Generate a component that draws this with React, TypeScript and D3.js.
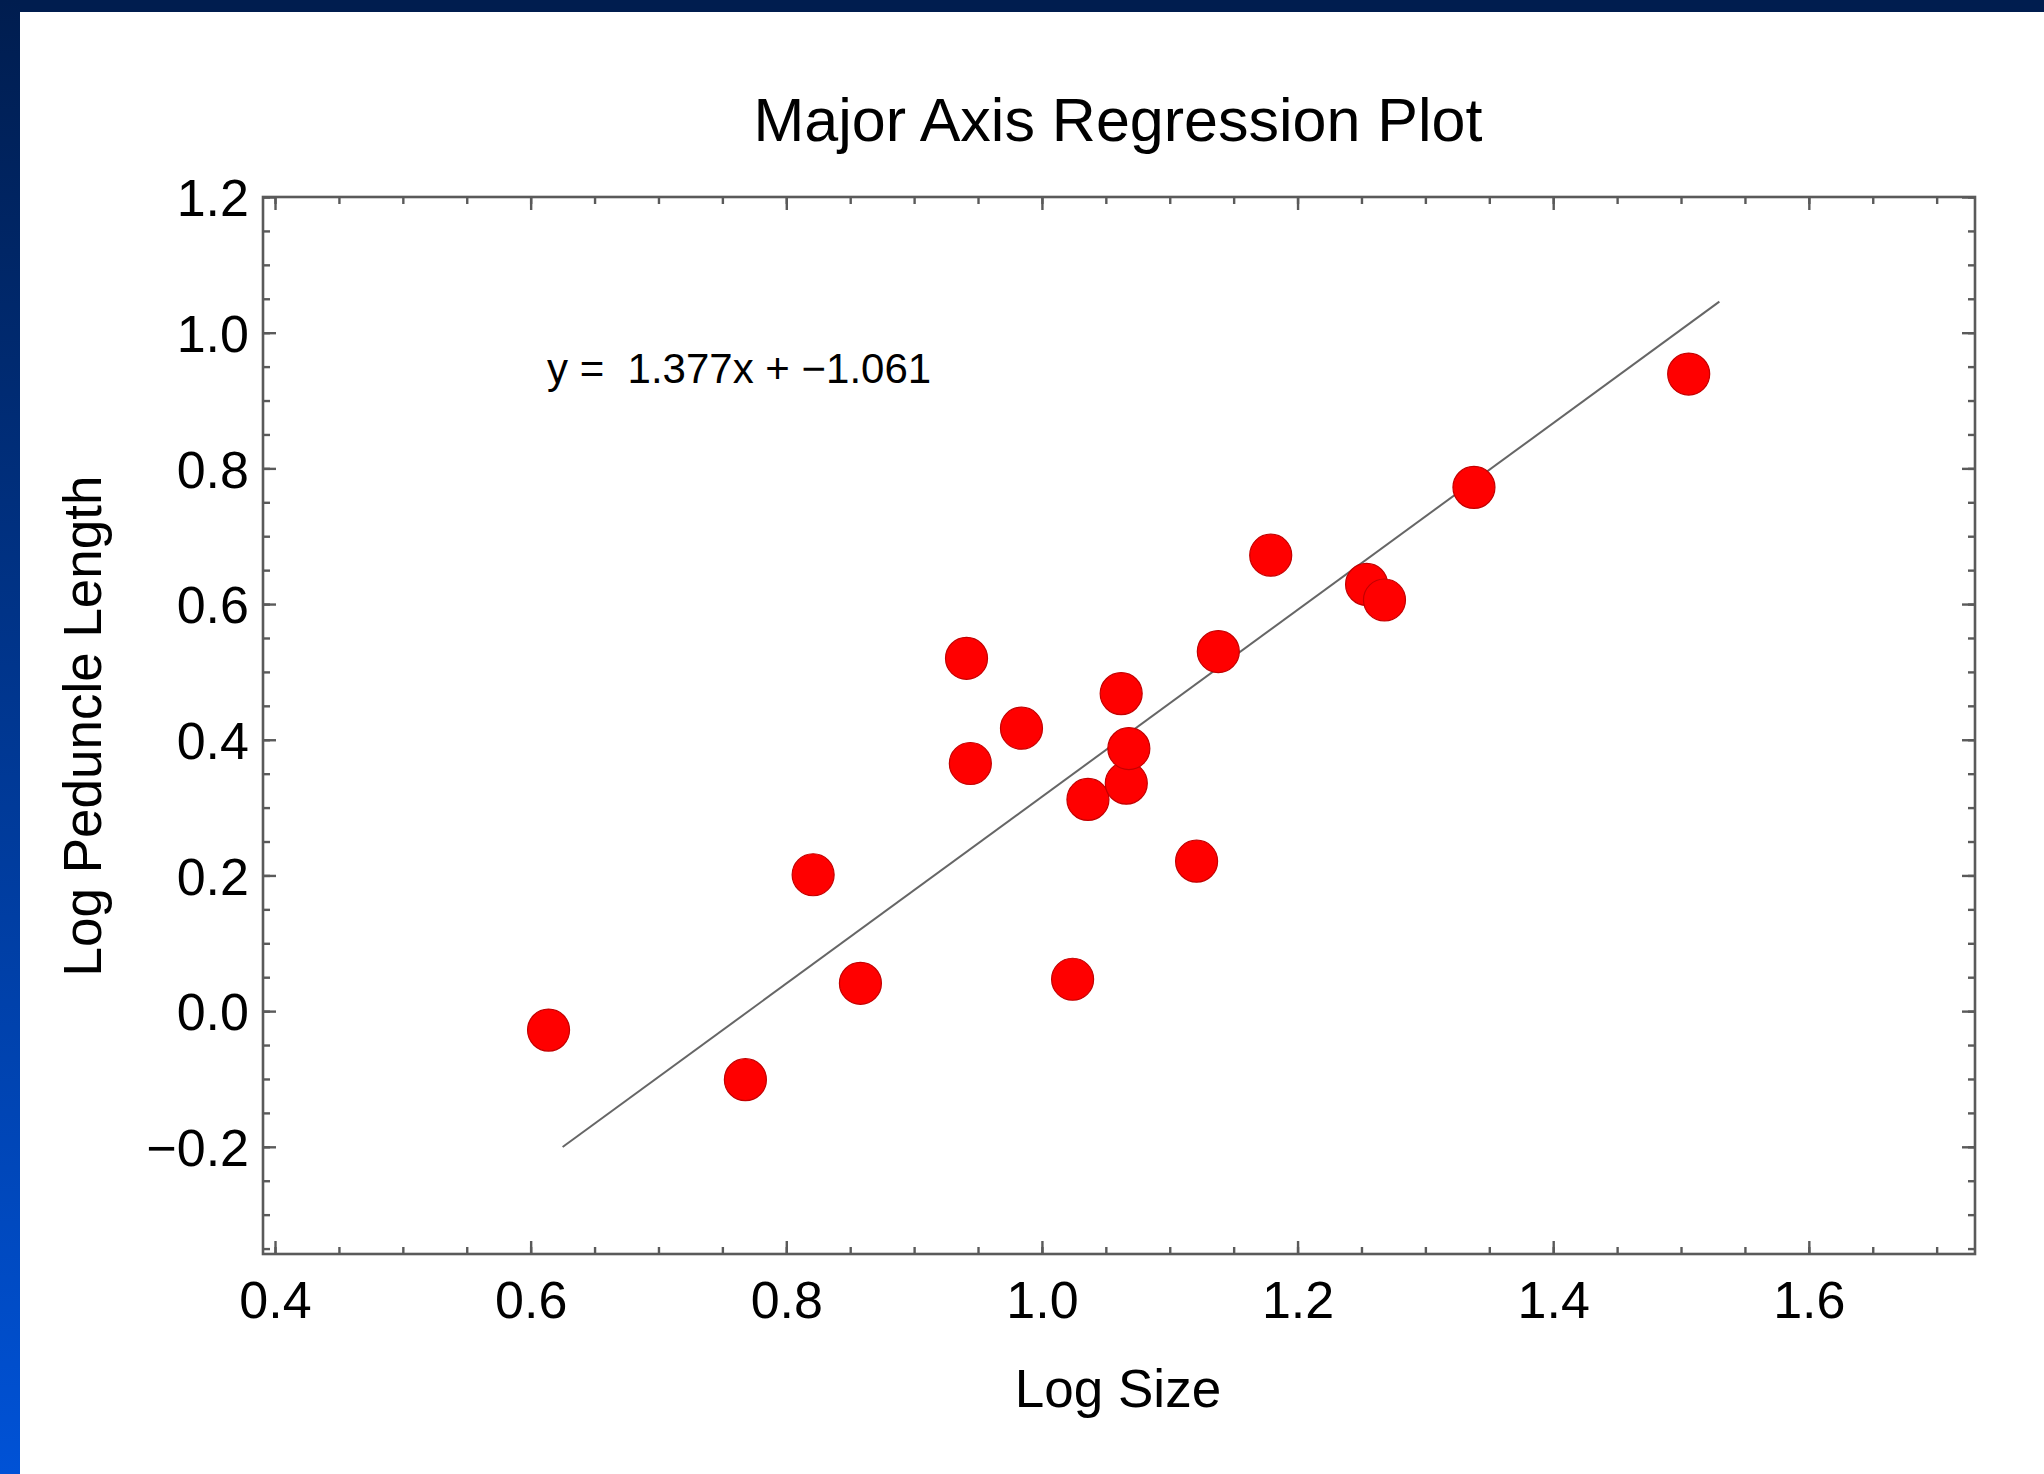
import React, { useEffect, useRef } from "react";
import * as d3 from "d3";

// valores (log tamaño vs log pedunculo)
const logSize = [
  0.614, 0.768, 0.821, 0.858, 0.941, 0.944, 0.984, 1.024, 1.036, 1.062,
  1.066, 1.068, 1.121, 1.138, 1.179, 1.254, 1.268, 1.338, 1.506,
];
const logPeduncle = [
  -0.028, -0.101, 0.201, 0.041, 0.52, 0.365, 0.417, 0.047, 0.312, 0.468,
  0.336, 0.387, 0.221, 0.53, 0.672, 0.629, 0.606, 0.772, 0.939,
];

const slope = 1.377;
const intercept = -1.061;
const lineX = [0.625, 1.53];

const xTicks = [0.4, 0.6, 0.8, 1.0, 1.2, 1.4, 1.6];
const yTicks = [-0.2, 0.0, 0.2, 0.4, 0.6, 0.8, 1.0, 1.2];

const title = "Major Axis Regression Plot";
const xLabel = "Log Size";
const yLabel = "Log Peduncle Length";
const equation = "y =  1.377x + \u22121.061";

const W = 2044;
const H = 1474;
const FONT = "'Liberation Sans', Arial, Helvetica, sans-serif";

export default function App() {
  const ref = useRef<SVGSVGElement | null>(null);

  useEffect(() => {
    const svg = d3.select(ref.current);
    svg.selectAll("*").remove();

    const left = 263,
      right = 1975,
      top = 197,
      bottom = 1254;

    const x = d3.scaleLinear().domain([0.3906, 1.73]).range([left, right]);
    const y = d3.scaleLinear().domain([-0.358, 1.2]).range([bottom, top]);

    const xMinor = d3.range(8, 35).map((i) => i * 0.05);
    const yMinor = d3.range(-7, 25).map((i) => i * 0.05);

    // fondo y marco azul
    const defs = svg.append("defs");
    const grad = defs
      .append("linearGradient")
      .attr("id", "azul")
      .attr("x1", 0)
      .attr("y1", 0)
      .attr("x2", 0)
      .attr("y2", 1);
    grad.append("stop").attr("offset", "0%").attr("stop-color", "#001d4f");
    grad.append("stop").attr("offset", "100%").attr("stop-color", "#0052d6");

    svg.append("rect").attr("width", W).attr("height", H).attr("fill", "#fff");
    svg.append("rect").attr("width", W).attr("height", 12).attr("fill", "#001d4f");
    svg.append("rect").attr("width", 20).attr("height", H).attr("fill", "url(#azul)");

    // ejes en los cuatro lados, marcas hacia dentro
    const fmt = d3.format(".1f");
    const estilo = (g: any) => {
      g.select(".domain").remove();
      g.selectAll(".tick line").attr("stroke", "#5a5a5a").attr("stroke-width", 2.4);
      g.selectAll(".tick text")
        .attr("fill", "#000")
        .style("font-family", FONT)
        .style("font-size", "52px");
    };

    svg
      .append("g")
      .attr("transform", `translate(0,${bottom})`)
      .call(d3.axisBottom(x).tickValues(xMinor).tickSize(-7).tickFormat(() => ""))
      .call(estilo);
    svg
      .append("g")
      .attr("transform", `translate(0,${bottom})`)
      .call(d3.axisBottom(x).tickValues(xTicks).tickSize(-13).tickPadding(27).tickFormat(fmt as any))
      .call(estilo);
    svg
      .append("g")
      .attr("transform", `translate(0,${top})`)
      .call(d3.axisTop(x).tickValues(xMinor).tickSize(-7).tickFormat(() => ""))
      .call(estilo);
    svg
      .append("g")
      .attr("transform", `translate(0,${top})`)
      .call(d3.axisTop(x).tickValues(xTicks).tickSize(-13).tickFormat(() => ""))
      .call(estilo);

    svg
      .append("g")
      .attr("transform", `translate(${left},0)`)
      .call(d3.axisLeft(y).tickValues(yMinor).tickSize(-7).tickFormat(() => ""))
      .call(estilo);
    const gy = svg
      .append("g")
      .attr("transform", `translate(${left},0)`)
      .call(d3.axisLeft(y).tickValues(yTicks).tickSize(-13).tickPadding(14).tickFormat(fmt as any))
      .call(estilo);
    gy.selectAll(".tick text").attr("dy", "0.36em");
    svg
      .append("g")
      .attr("transform", `translate(${right},0)`)
      .call(d3.axisRight(y).tickValues(yMinor).tickSize(-7).tickFormat(() => ""))
      .call(estilo);
    svg
      .append("g")
      .attr("transform", `translate(${right},0)`)
      .call(d3.axisRight(y).tickValues(yTicks).tickSize(-13).tickFormat(() => ""))
      .call(estilo);

    svg
      .append("rect")
      .attr("x", left)
      .attr("y", top)
      .attr("width", right - left)
      .attr("height", bottom - top)
      .attr("fill", "none")
      .attr("stroke", "#5a5a5a")
      .attr("stroke-width", 2.6);

    // recta de regresion
    const linea = d3
      .line<number>()
      .x((d) => x(d))
      .y((d) => y(slope * d + intercept));
    svg
      .append("path")
      .datum(lineX)
      .attr("d", linea)
      .attr("fill", "none")
      .attr("stroke", "#666")
      .attr("stroke-width", 2);

    // puntos
    svg
      .append("g")
      .selectAll("circle")
      .data(logSize.map((v, i) => [v, logPeduncle[i]]))
      .join("circle")
      .attr("cx", (d) => x(d[0]))
      .attr("cy", (d) => y(d[1]))
      .attr("r", 21)
      .attr("fill", "#ff0000")
      .attr("stroke", "#c40000")
      .attr("stroke-width", 1.2);

    // textos
    svg
      .append("text")
      .attr("x", 1118)
      .attr("y", 141)
      .attr("text-anchor", "middle")
      .style("font-family", FONT)
      .style("font-size", "61px")
      .text(title);

    svg
      .append("text")
      .attr("x", 547)
      .attr("y", 383)
      .attr("xml:space", "preserve")
      .style("white-space", "pre")
      .style("font-family", FONT)
      .style("font-size", "42px")
      .text(equation);

    svg
      .append("text")
      .attr("x", 1118)
      .attr("y", 1407)
      .attr("text-anchor", "middle")
      .style("font-family", FONT)
      .style("font-size", "53px")
      .text(xLabel);

    svg
      .append("text")
      .attr("transform", `translate(101,726) rotate(-90)`)
      .attr("text-anchor", "middle")
      .style("font-family", FONT)
      .style("font-size", "53px")
      .text(yLabel);
  }, []);

  return (
    <div style={{ position: "fixed", left: 0, top: 0, width: W, height: H, overflow: "hidden" }}>
      <svg ref={ref} width={W} height={H} style={{ display: "block" }}></svg>
    </div>
  );
}
